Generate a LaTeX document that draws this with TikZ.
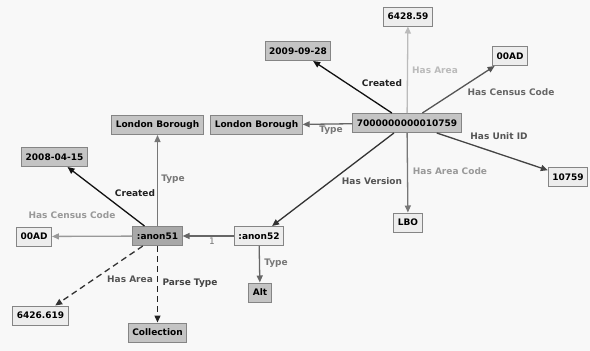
\documentclass[tikz,border=0pt]{standalone}
\usepackage{fontspec}
\setmainfont{DejaVu Sans}
\usetikzlibrary{arrows.meta}
\definecolor{bg}{HTML}{F8F8F8}
\definecolor{darkfill}{HTML}{C4C4C4}
\definecolor{midfill}{HTML}{A8A8A8}
\definecolor{lightfill}{HTML}{EDEDED}
\definecolor{boxline}{HTML}{858585}
\tikzset{
  box/.style={draw=boxline, line width=1pt, minimum height=19pt, inner xsep=4pt, inner ysep=0pt, font=\fontsize{9}{10}\selectfont\bfseries, text=black},
  darkbox/.style={box, fill=darkfill},
  midbox/.style={box, fill=midfill},
  lightbox/.style={box, fill=lightfill},
  lab/.style={font=\fontsize{9}{10}\selectfont\bfseries, inner sep=0pt},
  conn/.style={line width=1.3pt, -{Triangle[length=7pt,width=6pt]}},
  dashconn/.style={conn, dash pattern=on 6pt off 4pt},
}
\begin{document}
\begin{tikzpicture}[x=1pt,y=-1pt]
\fill[bg] (0,0) rectangle (590,351);
\useasboundingbox (0,0) rectangle (590,351);
% nodes
\node[lightbox] (area) at (408,16.5) {6428.59};
\node[darkbox] (created1) at (298,51) {2009-09-28};
\node[lightbox] (census1) at (510,56) {00AD};
\node[darkbox] (lbL) at (157.5,125) {London Borough};
\node[darkbox] (lbR) at (256.5,125) {London Borough};
\node[darkbox] (main) at (407,123) {7000000000010759};
\node[lightbox] (unit) at (568,177) {10759};
\node[darkbox] (created2) at (54.5,157) {2008-04-15};
\node[lightbox] (census2) at (34,236.5) {00AD};
\node[midbox] (anon51) at (157.5,236) {:anon51};
\node[lightbox] (anon52) at (259,236) {:anon52};
\node[darkbox] (alt) at (260,292.5) {Alt};
\node[lightbox] (area2) at (40.5,315.5) {6426.619};
\node[darkbox] (coll) at (157.5,332.5) {Collection};
\node[lightbox] (lbo) at (408,222.5) {LBO};
% connectors
\draw[conn, draw={rgb,255:red,187;green,187;blue,187}] (main) -- (area);
\draw[conn, draw={rgb,255:red,17;green,17;blue,17}] (main) -- (created1);
\draw[conn, draw={rgb,255:red,85;green,85;blue,85}] (main) -- (census1);
\draw[conn, draw={rgb,255:red,102;green,102;blue,102}] (main) -- (lbR);
\draw[conn, draw={rgb,255:red,68;green,68;blue,68}] (main) -- (unit);
\draw[conn, draw={rgb,255:red,119;green,119;blue,119}] (main) -- (lbo);
\draw[conn, draw={rgb,255:red,51;green,51;blue,51}] (main) -- (anon52);
\draw[conn, draw={rgb,255:red,102;green,102;blue,102}] (anon52) -- (anon51);
\draw[conn, draw={rgb,255:red,102;green,102;blue,102}] (anon52) -- (alt);
\draw[conn, draw={rgb,255:red,119;green,119;blue,119}] (anon51) -- (lbL);
\draw[conn, draw={rgb,255:red,17;green,17;blue,17}] (anon51) -- (created2);
\draw[conn, draw={rgb,255:red,153;green,153;blue,153}] (anon51) -- (census2);
\draw[dashconn, draw={rgb,255:red,51;green,51;blue,51}] (anon51) -- (area2);
\draw[dashconn, draw={rgb,255:red,34;green,34;blue,34}] (anon51) -- (coll);
% labels
\node[lab, text={rgb,255:red,187;green,187;blue,187}] (l1) at (435,70) {Has Area};
\node[lab, text={rgb,255:red,34;green,34;blue,34}] (l2) at (382,83) {Created};
\node[lab, text={rgb,255:red,102;green,102;blue,102}] (l3) at (511,92) {Has Census Code};
\node[lab, text={rgb,255:red,119;green,119;blue,119}] (l4) at (331,130) {Type};
\node[lab, text={rgb,255:red,85;green,85;blue,85}] (l5) at (499,136) {Has Unit ID};
\node[lab, text={rgb,255:red,153;green,153;blue,153}] (l6) at (450,171) {Has Area Code};
\node[lab, text={rgb,255:red,85;green,85;blue,85}] (l7) at (372,181) {Has Version};
\node[lab, text={rgb,255:red,119;green,119;blue,119}] (l8) at (173,179) {Type};
\node[lab, text={rgb,255:red,34;green,34;blue,34}] (l9) at (135,193) {Created};
\node[lab, text={rgb,255:red,153;green,153;blue,153}] (l10) at (72,215) {Has Census Code};
\node[lab, text={rgb,255:red,119;green,119;blue,119}, font=\fontsize{9}{10}\selectfont] (l11) at (212,241) {1};
\node[lab, text={rgb,255:red,119;green,119;blue,119}] (l12) at (276,263) {Type};
\node[lab, text={rgb,255:red,85;green,85;blue,85}] (l13) at (130,279) {Has Area};
\node[lab, text={rgb,255:red,68;green,68;blue,68}] (l14) at (190,283) {Parse Type};
\end{tikzpicture}
\end{document}
